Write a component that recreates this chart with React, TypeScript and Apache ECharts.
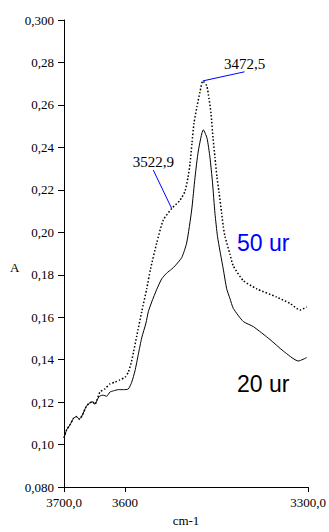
import React, { useEffect, useRef } from "react";
import * as echarts from "echarts";

// wavenumber (cm-1) and absorbance for "20 ur" (solid)
const wn20 = [3700, 3695.6, 3690.2, 3684.4, 3679.5, 3674.9, 3669.7, 3663.9, 3659.0, 3653.3, 3649.2, 3645.9, 3641.8, 3636.1, 3630.0, 3624.6, 3619.2, 3611.0, 3602.8, 3594.6, 3589.0, 3583.6, 3578.2, 3572.6, 3565.6, 3561.8, 3556.2, 3548.0, 3539.8, 3531.6, 3523.4, 3518.0, 3507.0, 3498.9, 3490.7, 3485.2, 3479.8, 3471.6, 3465.6, 3460.7, 3456.6, 3452.5, 3448.4, 3444.3, 3438.9, 3433.3, 3427.9, 3422.5, 3406.1, 3389.7, 3362.3, 3340.5, 3315.9, 3302.1];
const abs20 = [0.1032, 0.1070, 0.1093, 0.1124, 0.1132, 0.1120, 0.1140, 0.1178, 0.1194, 0.1202, 0.1190, 0.1210, 0.1228, 0.1233, 0.1228, 0.1248, 0.1253, 0.1259, 0.1259, 0.1262, 0.1294, 0.1348, 0.1425, 0.1503, 0.1573, 0.1626, 0.1672, 0.1731, 0.1781, 0.1808, 0.1827, 0.1842, 0.1881, 0.1950, 0.2105, 0.2259, 0.2383, 0.2483, 0.2444, 0.2352, 0.2236, 0.2089, 0.1981, 0.1912, 0.1827, 0.1734, 0.1688, 0.1642, 0.1580, 0.1556, 0.1495, 0.1441, 0.1394, 0.1410];

// wavenumber and absorbance for "50 ur" (dotted)
const wn50 = [3700, 3695.6, 3690.2, 3684.4, 3679.5, 3674.9, 3669.7, 3663.9, 3659.0, 3653.3, 3649.2, 3645.9, 3641.0, 3632.8, 3624.6, 3616.4, 3608.2, 3600, 3594.6, 3589.8, 3586.1, 3580.8, 3572.6, 3564.4, 3558.2, 3548.0, 3537.2, 3523.4, 3509.8, 3501.6, 3496.7, 3493.4, 3490.2, 3486.9, 3482.0, 3477.0, 3472.5, 3466.0, 3462.3, 3459.0, 3455.7, 3452.5, 3449.2, 3445.9, 3441.5, 3438.9, 3436.1, 3427.9, 3422.5, 3406.1, 3384.1, 3351.3, 3329.5, 3313.1, 3302.1];
const abs50 = [0.1032, 0.1070, 0.1093, 0.1124, 0.1132, 0.1120, 0.1140, 0.1178, 0.1194, 0.1202, 0.1190, 0.1210, 0.1248, 0.1263, 0.1286, 0.1294, 0.1305, 0.1317, 0.1341, 0.1386, 0.1435, 0.1511, 0.1626, 0.1734, 0.1827, 0.1950, 0.2058, 0.2112, 0.2151, 0.2194, 0.2259, 0.2324, 0.2421, 0.2514, 0.2592, 0.2662, 0.2713, 0.2690, 0.2630, 0.2560, 0.2444, 0.2352, 0.2259, 0.2190, 0.2089, 0.2027, 0.1981, 0.1896, 0.1842, 0.1773, 0.1734, 0.1695, 0.1665, 0.1634, 0.1649];

// annotated peaks: point on curve, label anchor, label text
const peakPoints = [[3472.5, 0.2713], [3523.4, 0.2112]];
const peakAnchors = [[3404, 0.2756], [3553.6, 0.2293]];
const peakLabels = ["3472,5", "3522,9"];

const xTickValues = [3700, 3600, 3300];
const xTickLabels = ["3700,0", "3600", "3300,0"];
const yTickLabels = ["0,080", "0,10", "0,12", "0,14", "0,16", "0,18", "0,20", "0,22", "0,24", "0,26", "0,28", "0,300"];

const seriesNames = ["20 ur", "50 ur"];

export default function App() {
  const ref = useRef<HTMLDivElement>(null);
  useEffect(() => {
    if (!ref.current) return;
    const chart = echarts.init(ref.current, null, { renderer: "svg" });
    const serif = "Liberation Serif";
    const sans = "Liberation Sans";
    chart.setOption({
      animation: false,
      backgroundColor: "#ffffff",
      grid: { left: 64, right: 21, top: 20, bottom: 37, containLabel: false },
      xAxis: {
        type: "value",
        min: 3300,
        max: 3700,
        inverse: true,
        name: "cm-1",
        nameLocation: "middle",
        nameGap: 23,
        nameTextStyle: { fontFamily: serif, fontSize: 13, color: "#000" },
        axisLine: { show: true, lineStyle: { color: "#000", width: 1 } },
        axisTick: { show: true, length: 5, customValues: xTickValues, lineStyle: { color: "#000" } },
        axisLabel: {
          customValues: xTickValues,
          margin: 9,
          fontFamily: serif,
          fontSize: 13,
          color: "#000",
          formatter: (v: number) => {
            const i = xTickValues.indexOf(v);
            return i >= 0 ? xTickLabels[i] : "";
          },
        },
        splitLine: { show: false },
      },
      yAxis: {
        type: "value",
        min: 0.08,
        max: 0.3,
        interval: 0.02,
        axisLine: { show: true, lineStyle: { color: "#000", width: 1 } },
        axisTick: { show: true, length: 6, lineStyle: { color: "#000" } },
        axisLabel: {
          margin: 10,
          fontFamily: serif,
          fontSize: 13,
          color: "#000",
          formatter: (v: number, i: number) => yTickLabels[i] ?? "",
        },
        splitLine: { show: false },
      },
      series: [
        {
          name: seriesNames[0],
          type: "line",
          data: wn20.map((w, i) => [w, abs20[i]]),
          symbol: "none",
          smooth: 0.2,
          lineStyle: { color: "#000", width: 1 },
        },
        {
          name: seriesNames[1],
          type: "line",
          data: wn50.map((w, i) => [w, abs50[i]]),
          symbol: "none",
          smooth: 0.2,
          lineStyle: { color: "#000", width: 1.5, type: [1.5, 2] },
          markLine: {
            silent: true,
            symbol: ["none", "none"],
            lineStyle: { color: "#0000ff", width: 1, type: "solid" },
            label: { show: false },
            data: peakPoints.map((p, i) => [{ coord: p }, { coord: peakAnchors[i] }]),
          },
          markPoint: {
            silent: true,
            symbol: "circle",
            symbolSize: 1,
            itemStyle: { color: "rgba(0,0,0,0)" },
            label: {
              show: true,
              position: "top",
              distance: 0,
              formatter: "{b}",
              fontFamily: serif,
              fontSize: 15,
              color: "#000",
            },
            data: peakAnchors.map((p, i) => ({ coord: p, name: peakLabels[i] })),
          },
        },
      ],
      graphic: [
        {
          type: "text",
          left: 10,
          top: 261,
          style: { text: "A", fontFamily: serif, fontSize: 13, fill: "#000" },
        },
        {
          type: "text",
          x: 237,
          y: 243,
          style: { text: seriesNames[1], fontFamily: sans, fontSize: 23, fill: "#0000ff", textVerticalAlign: "middle" },
        },
        {
          type: "text",
          x: 237,
          y: 384,
          style: { text: seriesNames[0], fontFamily: sans, fontSize: 23, fill: "#000", textVerticalAlign: "middle" },
        },
      ],
    });
    return () => chart.dispose();
  }, []);
  return (
    <div
      ref={ref}
      style={{ position: "fixed", left: 0, top: 0, width: 329, height: 532, background: "#fff" }}
    />
  );
}
